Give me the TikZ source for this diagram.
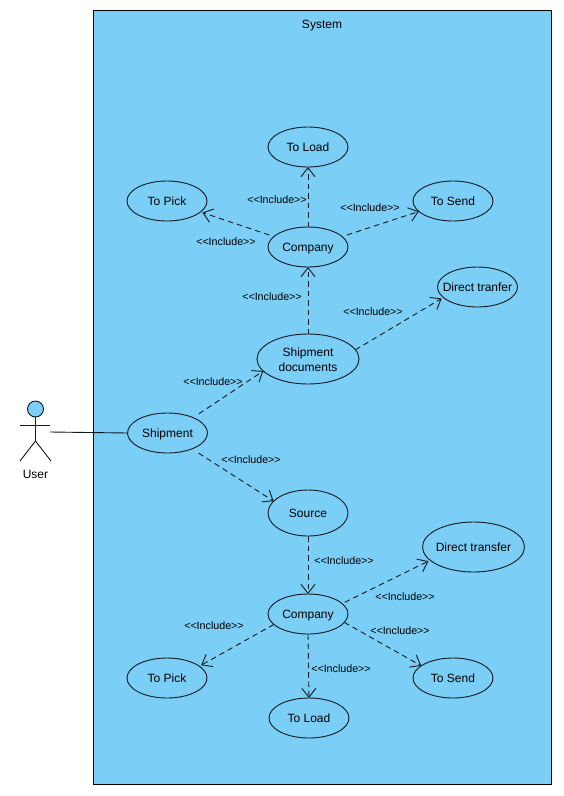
\documentclass[tikz,border=0pt]{standalone}
\usepackage{fontspec}
\setmainfont{Liberation Sans}
\usetikzlibrary{shapes.geometric,arrows.meta}
\definecolor{sysblue}{HTML}{7BCEF6}
\definecolor{linec}{HTML}{101820}
\newcommand{\inctext}{<{}<Include>{}>}
\newcommand{\nodepth}[1]{\raisebox{0pt}[8.6pt][0pt]{#1}}
\tikzset{
  usecase/.style={ellipse,draw=linec,line width=0.9pt,inner sep=0pt,outer sep=0pt,minimum width=80pt,minimum height=40pt,align=center,font=\fontsize{12}{15}\selectfont,text=black},
  bigcase/.style={usecase,minimum width=102pt,minimum height=50pt},
  inc/.style={draw=linec,line width=0.9pt,dash pattern=on 5.5pt off 4pt,-{Straight Barb[length=9pt,width=14pt,line width=0.9pt]}},
  inclabel/.style={font=\fontsize{10.7}{12}\selectfont,inner sep=0pt,text=black},
  limb/.style={draw=linec,line width=0.9pt}
}
\begin{document}
\begin{tikzpicture}[x=1pt,y=-1pt]
\useasboundingbox (0,0) rectangle (564,796);
\fill[white] (0,0) rectangle (564,796);
\node[draw=black,fill=sysblue,line width=0.9pt,minimum width=458pt,minimum height=773.5pt,inner sep=0pt,outer sep=0pt] (system) at (322.5,397.2) {};
\node[font=\fontsize{12}{15}\selectfont,inner sep=0pt] (systitle) at (322,24) {\nodepth{System}};

% actor
\node[circle,draw=linec,fill=sysblue,line width=0.9pt,minimum size=16pt,inner sep=0pt,outer sep=0pt] (head) at (35.5,409) {};
\coordinate (hip) at (35.5,441);
\coordinate (lefthand) at (20,425);
\coordinate (righthand) at (50,425);
\coordinate (leftfoot) at (20,461);
\coordinate (rightfoot) at (51,461);
\coordinate (hand) at (50,432);
\draw[limb] (head.south) -- (hip);
\draw[limb] (lefthand) -- (righthand);
\draw[limb] (leftfoot) -- (hip) -- (rightfoot);
\node[font=\fontsize{12}{15}\selectfont,inner sep=0pt] (user) at (35.5,474.5) {User};

% use cases
\node[usecase] (load1) at (308,147) {To Load};
\node[usecase] (pick1) at (167,201) {To Pick};
\node[usecase] (send1) at (453,201) {To Send};
\node[usecase] (comp1) at (308,247) {\nodepth{Company}};
\node[bigcase] (docs) at (308,359) {\raisebox{0pt}[11pt][0pt]{Shipment}\\documents};
\node[usecase] (tranfer) at (477.5,287) {\makebox[0pt]{Direct tranfer}};
\node[usecase] (ship) at (167.5,433) {\nodepth{Shipment}};
\node[usecase,minimum height=46pt] (source) at (308,513) {Source};
\node[bigcase] (transfer) at (473.5,547) {\makebox[0pt]{Direct transfer}};
\node[usecase] (comp2) at (308,614) {\nodepth{Company}};
\node[usecase] (pick2) at (167,678) {To Pick};
\node[usecase] (send2) at (453,678) {To Send};
\node[usecase] (load2) at (309,718) {To Load};

% connectors
\draw[limb] (hand) -- (ship.west);
\draw[inc] (comp1.north) -- (load1.south);
\draw[inc,shorten <=5pt,shorten >=2pt] (comp1.163) -- (pick1.-18);
\draw[inc,shorten <=5pt] (comp1.17) -- (send1.197);
\draw[inc] (docs.north) -- (comp1.south);
\draw[inc,shorten >=2pt] (docs.11) -- (tranfer.197);
\draw[inc,shorten <=7pt] (ship.31) -- (docs.195);
\draw[inc,shorten <=8pt] (ship.-33) -- (source.161);
\draw[inc] (source.south) -- (comp2.north);
\draw[inc,shorten <=3pt,shorten >=2pt] (comp2.17) -- (transfer.197);
\draw[inc] (comp2.-13) -- (send2.159);
\draw[inc,shorten >=2pt] (comp2.197) -- (pick2.20);
\draw[inc] (comp2.south) -- (load2.north);

% labels
\node[inclabel] (l1) at (277,199.5) {\inctext};
\node[inclabel] (l2) at (370,207.5) {\inctext};
\node[inclabel] (l3) at (226,241.5) {\inctext};
\node[inclabel] (l4) at (272,296.5) {\inctext};
\node[inclabel] (l5) at (373,311.5) {\inctext};
\node[inclabel] (l6) at (213,381.5) {\inctext};
\node[inclabel] (l7) at (251,459.5) {\inctext};
\node[inclabel] (l8) at (344,560.5) {\inctext};
\node[inclabel] (l9) at (405,596.5) {\inctext};
\node[inclabel] (l10) at (214,625.5) {\inctext};
\node[inclabel] (l11) at (400,630.5) {\inctext};
\node[inclabel] (l12) at (341,668.5) {\inctext};
\end{tikzpicture}
\end{document}
